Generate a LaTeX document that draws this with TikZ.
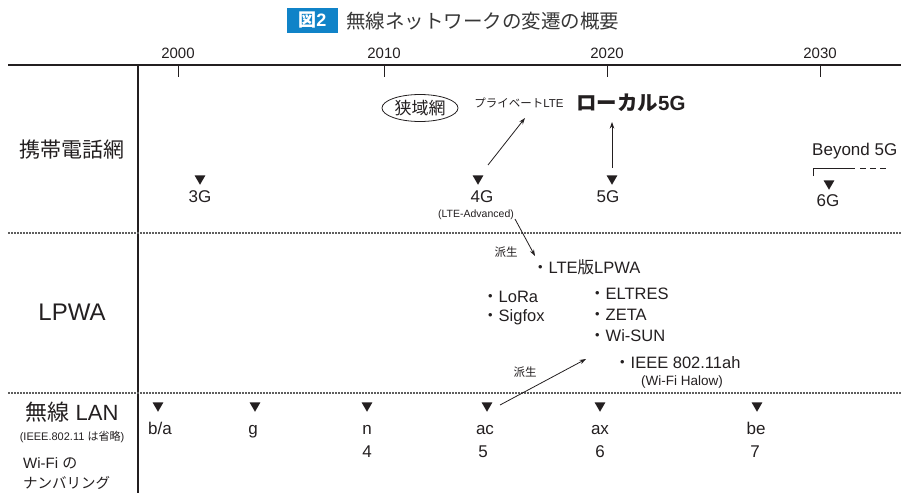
\documentclass[tikz,border=0pt]{standalone}
\usepackage{fontspec}
\setmainfont{Liberation Sans}
\newfontfamily\jp{Noto Sans CJK JP}
\usetikzlibrary{shapes.geometric,arrows.meta}
\definecolor{ink}{RGB}{35,31,32}
\definecolor{figblue}{RGB}{16,131,200}
\definecolor{titlegray}{RGB}{55,55,55}
\definecolor{dotgray}{RGB}{95,95,95}
\newcommand{\fsz}[1]{\fontsize{#1}{#1}\selectfont}
\begin{document}
\begin{tikzpicture}[x=1pt,y=-1pt,
  lbl/.style={inner sep=0, text=ink},
  tri/.style={regular polygon, regular polygon sides=3, shape border rotate=180,
              fill=ink, draw=none, inner sep=0, minimum size=12.5},
  arr/.style={-{Stealth[length=6.5pt,width=4.5pt]}, line width=0.8, draw=ink},
  dotline/.style={draw=dotgray, line width=1.1, dash pattern=on 1.6pt off 1.4pt},
  yr/.style={lbl, font=\fsz{15}},
  gen/.style={lbl, font=\fsz{17}},
  item/.style={lbl, anchor=west, font=\fsz{16.5}},
  small/.style={lbl, font=\jp\fsz{11.5}}
]
\useasboundingbox (0,0) rectangle (901,493);

% title
\node[fill=figblue, text=white, inner sep=0, minimum width=51, minimum height=25,
      font=\bfseries\fsz{18}] (fig) at (312.5,20.5) {{\jp\bfseries 図}2};
\node[inner sep=0, anchor=west, text=titlegray, font=\jp\fsz{19.5}] (title) at (346,21)
  {無線ネットワークの変遷の概要};

% axis
\coordinate (axL) at (8,65);
\coordinate (axR) at (901,65);
\draw[line width=1.8, draw=ink] (axL) -- (axR);
\foreach \x/\y in {178/2000,384/2010,607/2020,820/2030}{
  \coordinate (tk\y) at (\x,65);
  \draw[line width=0.9, draw=ink] (tk\y) -- ++(0,12);
  \node[yr] (y\y) at (\x,53) {\y};
}
% vertical separator
\coordinate (vT) at (138,65);
\coordinate (vB) at (138,493);
\draw[line width=1.1, draw=ink] (vT) -- (vB);
% dotted separators
\coordinate (d1L) at (8,233); \coordinate (d1R) at (901,233);
\coordinate (d2L) at (8,393); \coordinate (d2R) at (901,393);
\draw[dotline] (d1L) -- (d1R);
\draw[dotline] (d2L) -- (d2R);

% row labels
\node[lbl, font=\jp\fsz{21}] (rowA) at (72,150) {携帯電話網};
\node[lbl, font=\fsz{24}] (rowB) at (72,312) {LPWA};
\node[lbl, font=\fsz{22}] (rowC) at (72,412) {{\jp 無線} LAN};
\node[lbl, font=\fsz{11}] (rowCs) at (72,437) {(IEEE.802.11 {\jp は省略})};
\node[lbl, anchor=west, font=\fsz{15}] (wifi1) at (23,463) {Wi-Fi {\jp の}};
\node[lbl, anchor=west, font=\jp\fsz{14.5}] (wifi2) at (23,483) {ナンバリング};

% cellular row
\node[tri] (t3g) at (200,178.5) {};
\node[gen] (l3g) at (200,197) {3G};
\node[tri] (t4g) at (478,178.5) {};
\node[gen] (l4g) at (482,197) {4G};
\node[lbl, font=\fsz{10.5}] (ltea) at (476,215) {(LTE-Advanced)};
\node[tri] (t5g) at (612,178.5) {};
\node[gen] (l5g) at (608,197) {5G};
\node[tri] (t6g) at (829,183.5) {};
\node[gen] (l6g) at (828,201) {6G};
\node[lbl, anchor=west, font=\fsz{17}] (b5g) at (812,151) {Beyond 5G};
\coordinate (brA) at (813,176);
\coordinate (brB) at (813,168);
\coordinate (brC) at (855,168);
\coordinate (brD) at (860,168);
\coordinate (brE) at (888,168);
\draw[line width=0.8, draw=ink] (brA) -- (brB) -- (brC);
\draw[line width=0.8, draw=ink, dash pattern=on 6pt off 4pt] (brD) -- (brE);

\node[ellipse, draw=ink, line width=0.8, inner sep=0, minimum width=76, minimum height=27,
      text=ink, font=\jp\fsz{17}] (narrow) at (420,108) {狭域網};
\node[lbl, font=\fsz{11.5}] (plte) at (519,103) {{\jp プライベート}LTE};
\node[lbl, anchor=west, font=\bfseries\fsz{20.5}] (l5gloc) at (576,103) {{\jp\bfseries ローカル}5G};

\coordinate (a4s) at (488,165);
\coordinate (a4e) at (525,118);
\draw[arr] (a4s) -- (a4e);
\coordinate (a5s) at (612,168);
\coordinate (a5e) at (612,122);
\draw[arr] (a5s) -- (a5e);

% LPWA row
\coordinate (h1s) at (515,219);
\coordinate (h1e) at (535,256);
\draw[arr] (h1s) -- (h1e);
\node[small] (ha1) at (506,252) {派生};
\node[item] (ltelp) at (532,267) {{\jp ・}LTE{\jp 版}LPWA};
\node[item] (lora) at (482,297) {{\jp ・}LoRa};
\node[item] (sigf) at (482,317) {{\jp ・}Sigfox};
\node[item] (eltr) at (589,294) {{\jp ・}ELTRES};
\node[item] (zeta) at (589,315) {{\jp ・}ZETA};
\node[item] (wsun) at (589,336) {{\jp ・}Wi-SUN};
\node[item] (ieee) at (614,363) {{\jp ・}IEEE 802.11ah};
\node[lbl, font=\fsz{13.5}] (halow) at (682,382) {(Wi-Fi Halow)};
\node[small] (ha2) at (525,372) {派生};

% wireless LAN row
\foreach \n/\x/\lx/\t in {ba/158/160/b\slash a, g/255/253/g, n/367/367/n, ac/487/485/ac, ax/600/600/ax, be/757/756/be}{
  \node[tri] (w\n) at (\x,405.5) {};
  \node[gen, anchor=base] (wl\n) at (\lx,434.5) {\t};
}
\node[gen] (num4) at (367,452) {4};
\node[gen] (num5) at (483,452) {5};
\node[gen] (num6) at (600,452) {6};
\node[gen] (num7) at (755,452) {7};

\coordinate (h2s) at (500,405);
\coordinate (h2e) at (586,359);
\draw[arr] (h2s) -- (h2e);
\end{tikzpicture}
\end{document}
